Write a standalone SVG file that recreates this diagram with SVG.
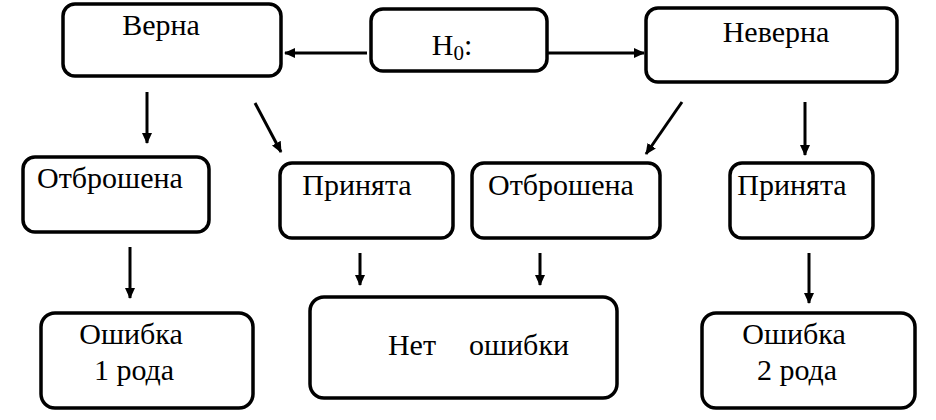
<svg xmlns="http://www.w3.org/2000/svg" width="936" height="420" viewBox="0 0 936 420">
<style>
.box{fill:#fff;stroke:#000;stroke-width:3.5}
.t{font-family:'Liberation Serif','Times New Roman',serif;font-size:30px;fill:#000;text-anchor:middle}
.c{stroke:#000;stroke-width:3;fill:none;marker-end:url(#ah)}
</style>
<defs>
<marker id="ah" markerUnits="userSpaceOnUse" markerWidth="12" markerHeight="10" refX="10" refY="5" orient="auto">
<path d="M0,0 L11,5 L0,10 Z" fill="#000"/>
</marker>
</defs>
<rect width="936" height="420" fill="#fff"/>
<g id="connectors">
<line class="c" x1="367" y1="53" x2="285" y2="53"/>
<line class="c" x1="547" y1="53" x2="644" y2="53"/>
<line class="c" x1="147" y1="92" x2="147" y2="143"/>
<line class="c" x1="255" y1="103" x2="281" y2="152"/>
<line class="c" x1="682" y1="102" x2="646" y2="154"/>
<line class="c" x1="805" y1="102" x2="805" y2="155"/>
<line class="c" x1="130" y1="247" x2="130" y2="298"/>
<line class="c" x1="360" y1="253" x2="360" y2="285"/>
<line class="c" x1="540" y1="253" x2="540" y2="285"/>
<line class="c" x1="809" y1="253" x2="809" y2="303"/>
</g>
<g id="verna">
<rect class="box" x="63" y="4" width="218" height="72" rx="12"/>
<text class="t" x="161" y="35">Верна</text>
</g>
<g id="h0">
<rect class="box" x="371" y="9" width="176" height="62" rx="12"/>
<text class="t" x="452" y="55">H<tspan font-size="21" dy="5">0</tspan><tspan dy="-5">:</tspan></text>
</g>
<g id="neverna">
<rect class="box" x="646" y="8" width="251" height="74" rx="12"/>
<text class="t" x="776" y="42">Неверна</text>
</g>
<g id="otbr1">
<rect class="box" x="23" y="157" width="186" height="75" rx="12"/>
<text class="t" x="110" y="188">Отброшена</text>
</g>
<g id="prin1">
<rect class="box" x="280" y="163" width="173" height="75" rx="12"/>
<text class="t" x="357" y="195">Принята</text>
</g>
<g id="otbr2">
<rect class="box" x="472" y="163" width="188" height="75" rx="12"/>
<text class="t" x="561" y="195">Отброшена</text>
</g>
<g id="prin2">
<rect class="box" x="730" y="163" width="143" height="75" rx="12"/>
<text class="t" x="792" y="195">Принята</text>
</g>
<g id="err1">
<rect class="box" x="41" y="313" width="212" height="95" rx="14"/>
<text class="t" x="131" y="344">Ошибка</text>
<text class="t" x="134" y="380">1 рода</text>
</g>
<g id="noerr">
<rect class="box" x="310" y="297" width="307" height="101" rx="14"/>
<text class="t" x="412" y="355">Нет</text>
<text class="t" x="519" y="355">ошибки</text>
</g>
<g id="err2">
<rect class="box" x="702" y="313" width="213" height="95" rx="14"/>
<text class="t" x="794" y="344">Ошибка</text>
<text class="t" x="797" y="380">2 рода</text>
</g>
</svg>
